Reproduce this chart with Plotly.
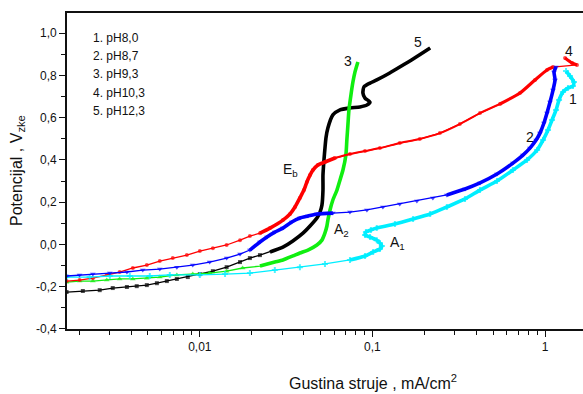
import numpy as np
import plotly.graph_objects as go

# Current density j (mA/cm^2) and potential E (V vs SCE) for each pH
j_ph80 = [0.00169, 0.00230, 0.00301, 0.00393, 0.00513, 0.00670, 0.0100, 0.0140, 0.0195, 0.0272,
          0.0380, 0.0531, 0.0741, 0.0906, 0.101, 0.1105, 0.1135, 0.1105, 0.106, 0.0968,
          0.0906, 0.0917, 0.0980, 0.106, 0.135, 0.172, 0.216, 0.270, 0.344, 0.420,
          0.527, 0.652, 0.787, 0.900, 0.974, 1.041, 1.098, 1.158, 1.206, 1.272,
          1.358, 1.452, 1.472, 1.396, 1.324]
e_ph80 = [-0.155, -0.155, -0.150, -0.150, -0.150, -0.145, -0.145, -0.141, -0.136, -0.122,
          -0.108, -0.093, -0.074, -0.055, -0.036, -0.022, -0.008, 0.006, 0.020, 0.035,
          0.044, 0.058, 0.068, 0.077, 0.096, 0.120, 0.144, 0.177, 0.215, 0.257,
          0.300, 0.352, 0.400, 0.447, 0.494, 0.542, 0.589, 0.636, 0.684, 0.722,
          0.741, 0.750, 0.769, 0.797, 0.821]

j_ph87 = [0.00169, 0.00201, 0.00240, 0.00301, 0.00378, 0.00467, 0.00586, 0.00736, 0.00910, 0.0114,
          0.0143, 0.0171, 0.0195, 0.0223, 0.0245, 0.0272, 0.0303, 0.0341, 0.0380, 0.0423,
          0.0477, 0.0590, 0.0741, 0.0929, 0.115, 0.144, 0.181, 0.224, 0.270, 0.344,
          0.420, 0.527, 0.652, 0.745, 0.818, 0.888, 0.935, 0.986, 1.027, 1.069,
          1.113, 1.143, 1.128, 1.158]
e_ph87 = [-0.150, -0.145, -0.141, -0.136, -0.131, -0.122, -0.117, -0.108, -0.098, -0.084,
          -0.065, -0.046, -0.027, 0.011, 0.035, 0.058, 0.077, 0.106, 0.125, 0.134,
          0.144, 0.148, 0.153, 0.163, 0.177, 0.191, 0.205, 0.219, 0.234, 0.262,
          0.291, 0.333, 0.385, 0.423, 0.456, 0.494, 0.527, 0.575, 0.622, 0.674,
          0.731, 0.779, 0.817, 0.840]

j_ph93 = [0.00169, 0.00201, 0.00240, 0.00289, 0.00343, 0.00409, 0.00493, 0.00586, 0.00736, 0.00910,
          0.0114, 0.0143, 0.0177, 0.0223, 0.0272, 0.0303, 0.0346, 0.0380, 0.0423, 0.0477,
          0.0510, 0.0531, 0.0545, 0.0552, 0.0568, 0.0590, 0.0623, 0.0649, 0.0675, 0.0702,
          0.0711, 0.0721, 0.0731, 0.0751, 0.0771, 0.0792, 0.0824]
e_ph93 = [-0.179, -0.174, -0.174, -0.169, -0.164, -0.164, -0.160, -0.155, -0.145, -0.141,
          -0.136, -0.127, -0.112, -0.103, -0.084, -0.074, -0.055, -0.041, -0.027, -0.003,
          0.020, 0.054, 0.087, 0.115, 0.163, 0.210, 0.257, 0.305, 0.352, 0.423,
          0.494, 0.565, 0.636, 0.708, 0.769, 0.816, 0.864]

j_ph103 = [0.00169, 0.00201, 0.00240, 0.00289, 0.00343, 0.00409, 0.00493, 0.00586, 0.00697, 0.00841,
           0.0100, 0.0119, 0.0143, 0.0171, 0.0195, 0.0223, 0.0255, 0.0303, 0.0333, 0.0356,
           0.0380, 0.0401, 0.0417, 0.0435, 0.0452, 0.0483, 0.0531, 0.0607, 0.0741, 0.0906,
           0.1105, 0.144, 0.188, 0.246, 0.321, 0.420, 0.548, 0.716, 0.875, 1.027,
           1.113, 1.533, 1.435, 1.306]
e_ph103 = [-0.174, -0.169, -0.160, -0.145, -0.131, -0.112, -0.098, -0.079, -0.065, -0.051,
           -0.032, -0.018, -0.003, 0.020, 0.039, 0.053, 0.077, 0.115, 0.144, 0.177,
           0.220, 0.257, 0.295, 0.328, 0.352, 0.376, 0.390, 0.409, 0.428, 0.442,
           0.456, 0.480, 0.499, 0.527, 0.570, 0.622, 0.665, 0.717, 0.779, 0.826,
           0.840, 0.850, 0.859, 0.883]

j_ph123 = [0.00169, 0.00210, 0.00263, 0.00313, 0.00378, 0.00431, 0.00493, 0.00564, 0.00644, 0.00736,
           0.00852, 0.0100, 0.0119, 0.0143, 0.0171, 0.0195, 0.0223, 0.0255, 0.0303, 0.0346,
           0.0396, 0.0435, 0.0477, 0.0497, 0.0510, 0.0517, 0.0517, 0.0524, 0.0531, 0.0538,
           0.0552, 0.0590, 0.0649, 0.0741, 0.0847, 0.0929, 0.0968, 0.0906, 0.0881, 0.0893,
           0.0968, 0.106, 0.126, 0.144, 0.172, 0.216]
e_ph123 = [-0.226, -0.221, -0.217, -0.207, -0.202, -0.198, -0.193, -0.184, -0.174, -0.164,
           -0.155, -0.141, -0.127, -0.108, -0.084, -0.065, -0.051, -0.036, -0.013, 0.016,
           0.053, 0.087, 0.125, 0.153, 0.186, 0.257, 0.328, 0.400, 0.456, 0.504,
           0.551, 0.613, 0.637, 0.646, 0.651, 0.660, 0.674, 0.693, 0.717, 0.746,
           0.764, 0.779, 0.812, 0.840, 0.878, 0.930]

legend_labels = ["1. pH8,0", "2. pH8,7", "3. pH9,3", "4. pH10,3", "5. pH12,3"]

y_ticks = [-0.4, -0.2, 0.0, 0.2, 0.4, 0.6, 0.8, 1.0]
y_ticktext = ["-0,4", "-0,2", "0,0", "0,2", "0,4", "0,6", "0,8", "1,0"]
x_ticks = [0.01, 0.1, 1]
x_ticktext = ["0,01", "0,1", "1"]

# curve number labels and feature labels: (text, j, E)
curve_labels = [("5", 0.184, 0.959), ("3", 0.0721, 0.868), ("4", 1.38, 0.916),
                ("2", 0.818, 0.509), ("1", 1.452, 0.689)]
feature_labels = [("E<sub>b</sub>", 0.0337, 0.353), ("A<sub>2</sub>", 0.0666, 0.068),
                  ("A<sub>1</sub>", 0.139, 0.006)]

series = [
    # j, E, colour, marker, marker size, (start, end, width) heavy segments, hide markers there
    (j_ph123, e_ph123, "#000000", "square", 4, [(17, 46, 3.6)], True),
    (j_ph93, e_ph93, "#10ee10", "triangle-up", 5, [(13, 37, 3.6)], True),
    (j_ph103, e_ph103, "#ff0000", "circle", 4,
     [(15, 28, 3.6), (27, 37, 2.0), (36, 41, 3.2), (41, 44, 3.2)], False),
    (j_ph80, e_ph80, "#00eeff", "cross", 5, [(12, 45, 3.6)], False),
    (j_ph87, e_ph87, "#0000ff", "triangle-down", 5, [(12, 22, 3.6), (28, 44, 3.6)], False),
]

fig = go.Figure()
for j, e, col, sym, msz, heavy, smooth in series:
    n = len(j)
    sizes = [msz] * n
    if smooth:
        for a, b, w in heavy:
            for k in range(a, b):
                sizes[k] = 0
    fig.add_trace(go.Scatter(x=j, y=e, mode="lines+markers",
                             line=dict(color=col, width=1.3),
                             marker=dict(symbol=sym, size=sizes, color=col, line=dict(width=0)),
                             showlegend=False, hoverinfo="skip"))
    for a, b, w in heavy:
        fig.add_trace(go.Scatter(x=j[a:b], y=e[a:b], mode="lines",
                                 line=dict(color=col, width=w, shape="spline", smoothing=0.6),
                                 showlegend=False, hoverinfo="skip"))

font_family = "Liberation Sans, Arial, sans-serif"
annotations = []
for i, txt in enumerate(legend_labels):
    annotations.append(dict(text=txt, xref="paper", yref="paper",
                            x=(91 - 67) / 516, y=(329 - (38 + 18.2 * i)) / 316,
                            xanchor="left", yanchor="middle", showarrow=False,
                            font=dict(size=12, color="#111", family=font_family)))
for txt, jx, ey in curve_labels + feature_labels:
    annotations.append(dict(text=txt, x=np.log10(jx), y=ey, xref="x", yref="y",
                            showarrow=False, xanchor="center", yanchor="middle",
                            font=dict(size=14, color="#111", family=font_family)))
annotations.append(dict(text="Potencijal , V<sub>zke</sub>", xref="paper", yref="paper",
                        x=(17 - 67) / 516, y=0.5, textangle=-90, showarrow=False,
                        xanchor="center", yanchor="middle",
                        font=dict(size=16, color="#111", family=font_family)))
annotations.append(dict(text="Gustina struje , mA/cm<sup>2</sup>", xref="paper", yref="paper",
                        x=(373 - 67) / 516, y=(329 - 382) / 316, showarrow=False,
                        xanchor="center", yanchor="middle",
                        font=dict(size=16, color="#111", family=font_family)))

minor_x = [m * 10.0 ** p for p in (-3, -2, -1, 0) for m in range(2, 10)]
minor_y = [-0.3, -0.1, 0.1, 0.3, 0.5, 0.7, 0.9]

fig.update_layout(
    width=583, height=394,
    margin=dict(l=67, r=0, t=13, b=65),
    paper_bgcolor="white", plot_bgcolor="white",
    font=dict(family=font_family, size=12, color="#111"),
    annotations=annotations,
    xaxis=dict(type="log", range=[np.log10(0.0017), np.log10(1.66)],
               showgrid=False, zeroline=False, showline=True, linecolor="#111", linewidth=1.6,
               mirror=True, ticks="outside", ticklen=6, tickwidth=1.4, tickcolor="#111",
               tickvals=x_ticks, ticktext=x_ticktext, tickfont=dict(size=12),
               minor=dict(tickvals=minor_x, ticks="outside", ticklen=4, tickwidth=1.2,
                          tickcolor="#111", showgrid=False)),
    yaxis=dict(range=[-0.401, 1.096], showgrid=False, zeroline=False, showline=True,
               linecolor="#111", linewidth=1.6, ticks="outside", ticklen=6, tickwidth=1.4,
               tickcolor="#111", tickvals=y_ticks, ticktext=y_ticktext,
               tickfont=dict(size=12),
               minor=dict(tickvals=minor_y, ticks="outside", ticklen=4, tickwidth=1.2,
                          tickcolor="#111", showgrid=False)),
)

fig.write_html("out.html", config={"displayModeBar": False})
